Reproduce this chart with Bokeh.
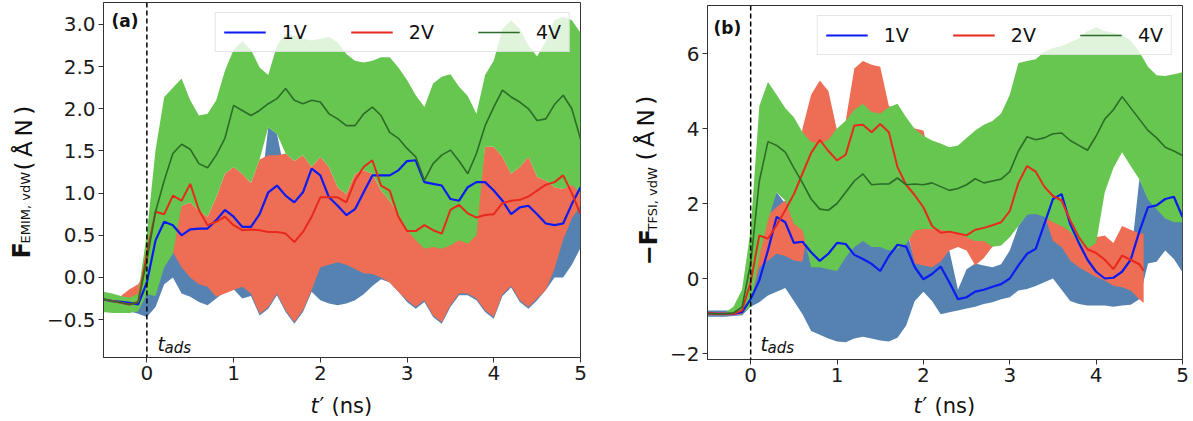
import math
from bokeh.plotting import figure
from bokeh.models import (Range1d, FixedTicker, CustomJSTickFormatter, Span, Label,
                          Legend, LegendItem)
from bokeh.layouts import row, column
from bokeh.embed import file_html
from bokeh.resources import INLINE

# ---------------- data ----------------
T = [-0.5, -0.4, -0.3, -0.2, -0.1, 0.0, 0.1, 0.2, 0.3, 0.4,
     0.5, 0.6, 0.7, 0.8, 0.9, 1.0, 1.1, 1.2, 1.3, 1.4,
     1.5, 1.6, 1.7, 1.8, 1.9, 2.0, 2.1, 2.2, 2.3, 2.4,
     2.5, 2.6, 2.7, 2.8, 2.9, 3.0, 3.1, 3.2, 3.3, 3.4,
     3.5, 3.6, 3.7, 3.8, 3.9, 4.0, 4.1, 4.2, 4.3, 4.4,
     4.5, 4.6, 4.7, 4.8, 4.9, 5.0]
T_RED_B = [-0.5, -0.4, -0.3, -0.2, -0.1, 0.0, 0.1, 0.2, 0.3, 0.4,
           0.5, 0.6, 0.7, 0.8, 0.9, 1.0, 1.1, 1.2, 1.3, 1.4,
           1.5, 1.6, 1.7, 1.8, 1.9, 2.0, 2.1, 2.2, 2.3, 2.4,
           2.5, 2.6, 2.7, 2.8, 2.9, 3.0, 3.1, 3.2, 3.3, 3.4,
           3.5, 3.6, 3.7, 3.8, 3.9, 4.0, 4.1, 4.2, 4.3, 4.4,
           4.5, 4.55]
SERIES = ["1V", "2V", "4V"]
X_TICKS = [0, 1, 2, 3, 4, 5]
A_Y_TICKS = [-0.5, 0.0, 0.5, 1.0, 1.5, 2.0, 2.5, 3.0]
B_Y_TICKS = [-2, 0, 2, 4, 6]

# panel (a): F_EMIM,vdW
a_1V = [-0.26, -0.28, -0.29, -0.30, -0.32, -0.06, 0.44, 0.66, 0.62, 0.50,
        0.57, 0.58, 0.58, 0.68, 0.80, 0.72, 0.60, 0.60, 0.75, 1.01,
        1.09, 0.97, 0.89, 1.01, 1.29, 1.21, 0.95, 0.85, 0.74, 0.81,
        1.01, 1.21, 1.21, 1.21, 1.27, 1.38, 1.39, 1.13, 1.11, 1.09,
        0.93, 0.91, 1.07, 1.13, 1.13, 1.03, 0.91, 0.75, 0.83, 0.85,
        0.75, 0.64, 0.62, 0.64, 0.87, 1.07]
a_1V_lo = [-0.36, -0.37, -0.38, -0.40, -0.43, -0.47, -0.35, -0.08, 0.00, -0.19,
           -0.23, -0.29, -0.33, -0.25, -0.17, -0.14, -0.25, -0.22, -0.45, -0.37,
           -0.21, -0.41, -0.55, -0.41, -0.17, -0.27, -0.31, -0.33, -0.31, -0.27,
           -0.20, -0.10, -0.02, -0.06, -0.17, -0.29, -0.37, -0.29, -0.47, -0.55,
           -0.35, -0.21, -0.21, -0.27, -0.41, -0.49, -0.22, -0.12, -0.29, -0.37,
           -0.27, -0.15, 0.00, 0.00, 0.15, 0.35]
a_1V_hi = [-0.22, -0.22, -0.22, -0.22, -0.20, 0.00, 0.30, 0.30, 0.35, 0.50,
           0.60, 0.60, 0.60, 0.60, 0.60, 0.60, 0.60, 0.60, 0.90, 1.78,
           1.70, 1.20, 1.00, 1.00, 1.00, 1.00, 1.00, 1.00, 0.90, 0.90,
           0.90, 0.90, 0.90, 0.80, 0.60, 0.50, 0.50, 0.50, 0.50, 0.50,
           0.50, 0.50, 0.50, 0.60, 0.90, 1.00, 1.00, 1.00, 1.00, 1.00,
           1.00, 1.00, 1.00, 1.05, 1.10, 1.00]
a_2V = [-0.26, -0.28, -0.30, -0.32, -0.29, 0.28, 0.78, 0.75, 0.97, 0.91,
        1.11, 0.80, 0.62, 0.66, 0.72, 0.62, 0.56, 0.57, 0.56, 0.54,
        0.54, 0.52, 0.42, 0.54, 0.72, 0.95, 0.95, 0.95, 0.89, 1.15,
        1.31, 1.39, 1.09, 1.03, 0.72, 0.55, 0.55, 0.62, 0.56, 0.52,
        0.80, 0.86, 0.76, 0.71, 0.74, 0.75, 0.88, 0.91, 0.92, 0.96,
        1.03, 1.10, 1.13, 1.21, 1.00, 0.75]
a_2V_lo = [-0.38, -0.38, -0.38, -0.38, -0.36, -0.20, -0.10, 0.15, 0.30, 0.12,
           0.00, -0.08, -0.11, -0.23, -0.19, -0.15, -0.11, -0.19, -0.43, -0.35,
           -0.19, -0.39, -0.53, -0.39, -0.15, 0.12, 0.15, 0.18, 0.15, 0.10,
           0.05, 0.04, 0.00, -0.06, -0.17, -0.27, -0.35, -0.27, -0.45, -0.53,
           -0.33, -0.19, -0.19, -0.25, -0.39, -0.47, -0.20, -0.10, -0.27, -0.35,
           -0.25, -0.15, 0.10, 0.45, 0.70, 0.85]
a_2V_hi = [-0.22, -0.22, -0.22, -0.14, -0.08, 0.10, 0.50, 0.60, 0.80, 0.85,
           0.89, 0.79, 0.72, 0.95, 1.23, 1.31, 1.23, 1.12, 1.40, 1.45,
           1.45, 1.47, 1.38, 1.45, 1.31, 1.43, 1.31, 1.07, 0.99, 1.23,
           1.27, 1.23, 1.03, 0.91, 0.75, 0.70, 0.70, 0.70, 0.70, 0.70,
           0.70, 0.70, 0.70, 0.80, 1.55, 1.55, 1.43, 1.23, 1.31, 1.43,
           1.19, 1.15, 1.07, 1.05, 1.10, 1.00]
a_4V = [-0.26, -0.28, -0.30, -0.32, -0.29, 0.20, 0.78, 1.15, 1.47, 1.58,
        1.52, 1.35, 1.30, 1.45, 1.65, 2.04, 1.98, 1.92, 1.98, 2.06,
        2.12, 2.24, 2.10, 2.06, 2.10, 2.08, 1.94, 1.88, 1.80, 1.80,
        1.94, 2.02, 1.92, 1.72, 1.65, 1.53, 1.43, 1.15, 1.35, 1.45,
        1.51, 1.38, 1.23, 1.47, 1.80, 2.02, 2.22, 2.14, 2.08, 2.00,
        1.86, 1.88, 2.05, 2.16, 2.00, 1.64]
a_4V_lo = [-0.41, -0.42, -0.42, -0.42, -0.40, -0.20, -0.22, 0.12, 0.28, 0.85,
           0.89, 0.79, 0.72, 0.95, 1.23, 1.31, 1.23, 1.12, 1.40, 1.78,
           1.70, 1.47, 1.38, 1.45, 1.31, 1.43, 1.31, 1.07, 0.99, 1.23,
           1.27, 1.23, 1.03, 0.91, 0.75, 0.56, 0.44, 0.34, 0.36, 0.34,
           0.38, 0.44, 0.40, 0.50, 1.55, 1.55, 1.43, 1.23, 1.31, 1.43,
           1.19, 1.15, 1.07, 1.05, 1.10, 1.00]
a_4V_hi = [-0.17, -0.19, -0.22, -0.24, -0.19, 0.52, 1.51, 2.14, 2.25, 2.36,
           2.10, 1.92, 1.94, 2.10, 2.45, 2.70, 2.80, 2.70, 2.49, 2.40,
           2.75, 2.89, 2.87, 2.83, 2.81, 2.83, 2.85, 2.79, 2.65, 2.57,
           2.55, 2.57, 2.61, 2.61, 2.49, 2.34, 2.16, 2.02, 2.30, 2.38,
           2.41, 2.26, 2.15, 1.94, 2.40, 2.57, 2.95, 3.05, 2.95, 2.75,
           2.62, 2.80, 3.05, 3.09, 3.05, 2.90]

# panel (b): -F_TFSI,vdW
b_1V = [-0.92, -0.94, -0.94, -0.94, -0.90, -0.55, -0.05, 0.75, 1.64, 1.50,
        0.95, 0.98, 0.70, 0.47, 0.66, 0.95, 0.92, 0.63, 0.52, 0.39,
        0.20, 0.60, 0.90, 0.85, 0.30, -0.02, 0.12, 0.32, -0.10, -0.55,
        -0.50, -0.35, -0.30, -0.22, -0.15, 0.00, 0.35, 0.66, 0.79, 1.45,
        2.12, 2.25, 1.45, 0.95, 0.50, 0.18, 0.00, 0.02, 0.18, 0.50,
        1.25, 1.90, 1.95, 2.12, 2.18, 1.64]
b_1V_lo = [-1.02, -1.02, -1.02, -1.00, -0.98, -0.75, -0.63, -0.45, -0.35, -0.25,
           -0.60, -0.95, -1.40, -1.50, -1.60, -1.68, -1.70, -1.60, -1.55, -1.60,
           -1.65, -1.68, -1.58, -1.25, -0.60, -0.35, -0.60, -0.95, -0.90, -0.85,
           -0.80, -0.75, -0.68, -0.63, -0.55, -0.50, -0.32, -0.28, -0.20, -0.10,
           0.00, -0.30, -0.60, -0.68, -0.72, -0.72, -0.72, -0.75, -0.72, -0.70,
           -0.55, 0.40, 0.45, 0.75, 0.52, 0.17]
b_1V_hi = [-0.85, -0.85, -0.85, -0.85, -0.80, -0.30, 0.50, 1.75, 2.30, 2.00,
           1.20, 1.00, 0.60, 0.60, 0.60, 0.60, 1.00, 1.00, 1.10, 1.10,
           1.20, 1.20, 1.30, 1.30, 0.50, 0.50, 0.50, 0.60, 0.75, -0.30,
           0.25, 0.40, 0.35, 0.30, 0.38, 0.75, 1.40, 1.72, 1.75, 1.70,
           1.30, 1.00, 0.70, 0.50, 0.40, 0.30, 0.30, 0.20, 0.30, 0.50,
           2.65, 2.15, 1.90, 1.65, 1.55, 1.55]
b_2V = [-0.92, -0.94, -0.94, -0.94, -0.85, -0.10, 1.15, 1.06, 1.42, 1.82,
        2.25, 2.80, 3.35, 3.70, 3.40, 3.15, 3.30, 4.08, 4.10, 3.90,
        4.12, 3.90, 2.97, 2.50, 2.22, 1.90, 1.40, 1.22, 1.25, 1.20,
        1.15, 1.30, 1.35, 1.42, 1.50, 1.80, 2.55, 3.00, 2.85, 2.45,
        2.20, 2.08, 1.55, 1.10, 0.78, 0.68, 0.50, 0.25, 0.61, 0.50,
        0.38, 0.21]
b_2V_lo = [-0.98, -0.98, -0.98, -0.98, -0.95, -0.60, 0.30, 0.48, 0.66, 0.60,
           0.48, 0.45, 1.80, 2.10, 1.80, 1.80, 2.30, 2.60, 2.60, 2.40,
           2.40, 2.50, 2.00, 1.40, 0.40, 0.35, 0.30, 0.45, 0.75, 0.84,
           0.75, 0.35, 0.55, 0.85, 1.00, 1.20, 1.50, 1.80, 1.80, 1.70,
           1.00, 0.84, 0.48, 0.30, 0.17, 0.04, -0.05, -0.19, -0.23, -0.32,
           -0.55, -0.65]
b_2V_hi = [-0.90, -0.90, -0.90, -0.90, -0.75, 0.00, 1.40, 1.70, 1.90, 2.08,
           2.00, 4.00, 4.90, 5.28, 5.00, 3.95, 4.20, 5.60, 5.80, 5.70,
           5.65, 4.60, 4.50, 4.10, 4.00, 3.95, 3.00, 2.50, 2.40, 2.30,
           2.30, 2.40, 2.50, 2.60, 2.70, 3.00, 3.50, 3.90, 4.00, 3.50,
           3.00, 2.80, 2.20, 1.50, 1.00, 1.10, 1.15, 0.95, 1.40, 1.30,
           1.20, 1.20]
b_4V = [-0.94, -0.94, -0.94, -0.92, -0.76, 0.40, 2.60, 3.65, 3.55, 3.37,
        2.95, 2.55, 2.12, 1.85, 1.82, 2.00, 2.30, 2.60, 2.79, 2.50,
        2.52, 2.52, 2.68, 2.50, 2.52, 2.50, 2.55, 2.45, 2.35, 2.40,
        2.50, 2.66, 2.55, 2.60, 2.65, 2.85, 3.40, 3.78, 3.70, 3.75,
        3.86, 3.88, 3.68, 3.55, 3.42, 3.80, 4.25, 4.50, 4.85, 4.55,
        4.25, 3.95, 3.75, 3.50, 3.40, 3.28]
b_4V_lo = [-0.94, -0.94, -0.94, -0.95, -0.92, -0.75, 0.60, 1.55, 2.30, 2.08,
           1.46, 1.28, 0.30, 0.30, 0.25, 0.20, 0.57, 0.84, 1.00, 0.84,
           0.84, 0.75, 0.80, 0.92, 1.28, 1.32, 1.32, 1.30, 1.25, 1.20,
           1.10, 1.00, 1.00, 0.85, 0.88, 1.10, 1.40, 1.70, 1.72, 1.65,
           1.50, 1.40, 1.25, 0.95, 0.80, 0.95, 2.30, 2.95, 3.37, 3.00,
           2.65, 2.10, 1.85, 1.60, 1.50, 1.50]
b_4V_hi = [-0.92, -0.92, -0.92, -0.75, -0.30, 1.30, 4.60, 5.24, 4.90, 4.55,
           4.30, 3.90, 3.64, 3.60, 3.70, 4.00, 4.21, 4.50, 4.66, 4.44,
           4.40, 4.57, 4.66, 4.30, 3.99, 3.81, 3.68, 3.60, 3.50, 3.55,
           3.75, 3.95, 4.10, 4.20, 4.40, 4.90, 5.75, 5.80, 5.85, 6.05,
           6.15, 6.20, 6.30, 6.40, 6.60, 6.70, 6.60, 6.55, 6.50, 6.35,
           6.05, 5.65, 5.42, 5.40, 5.45, 5.50]

# ---------------- style ----------------
FONT = "DejaVu Sans"
BAND = {"1V": "#5682b1", "2V": "#ed6e55", "4V": "#66c64f"}
LINE = {"1V": "#0b1bf2", "2V": "#e8291e", "4V": "#2c6b28"}
LW = {"1V": 2.2, "2V": 2.0, "4V": 1.6}
TEXT_COLOR = "#111111"


def lab(p, x, y, text, size, style="normal", angle=0.0, align="left", baseline="middle"):
    p.add_layout(Label(x=x, y=y, x_units="screen", y_units="screen", text=text,
                       text_font=FONT, text_font_size=size, text_font_style=style,
                       text_color=TEXT_COLOR, angle=angle, text_align=align,
                       text_baseline=baseline))


def strip(width, height):
    s = figure(width=width, height=height, x_axis_type=None, y_axis_type=None,
               x_range=Range1d(0, width), y_range=Range1d(0, height),
               min_border=0, output_backend="svg", toolbar_location=None)
    s.outline_line_color = None
    s.xgrid.visible = False
    s.ygrid.visible = False
    s.background_fill_color = "white"
    s.border_fill_color = "white"
    return s


def make_panel(width, height, border_l, border_r, border_t, border_b, yr, yticks, ydec, bands, lines):
    p = figure(width=width, height=height, x_range=Range1d(-0.5, 5.0), y_range=Range1d(*yr),
               output_backend="svg", toolbar_location=None,
               min_border_left=border_l, min_border_right=border_r,
               min_border_top=border_t, min_border_bottom=border_b)
    p.xgrid.visible = False
    p.ygrid.visible = False
    p.outline_line_color = "#333333"
    p.outline_line_width = 1
    p.background_fill_color = "white"
    p.border_fill_color = "white"
    p.xaxis.ticker = FixedTicker(ticks=X_TICKS)
    p.yaxis.ticker = FixedTicker(ticks=yticks)
    p.yaxis.formatter = CustomJSTickFormatter(
        code="return (tick < 0 ? '\u2212' : '') + Math.abs(tick).toFixed(%d);" % ydec)
    for ax in (p.xaxis[0], p.yaxis[0]):
        ax.axis_line_color = "#333333"
        ax.major_tick_line_color = "#333333"
        ax.major_tick_out = 5
        ax.major_tick_in = 0
        ax.minor_tick_out = 0
        ax.minor_tick_in = 0
        ax.major_label_text_font = FONT
        ax.major_label_text_font_size = "20px"
        ax.major_label_text_color = "#1a1a1a"
        ax.major_label_standoff = 3
    for s in SERIES:
        tt, lo, hi = bands[s]
        p.varea(x=tt, y1=lo, y2=hi, fill_color=BAND[s], fill_alpha=1.0)
    rends = []
    for s in SERIES:
        tt, vals = lines[s]
        rends.append(p.line(tt, vals, line_color=LINE[s], line_width=LW[s]))
    p.add_layout(Span(location=0, dimension="height", line_color="black",
                      line_dash="5 3", line_width=1.5))
    leg = Legend(items=[LegendItem(label=s, renderers=[r]) for s, r in zip(SERIES, rends)],
                 orientation="horizontal", location="top_right",
                 label_text_font=FONT, label_text_font_size="19px", label_text_color=TEXT_COLOR,
                 glyph_width=42, glyph_height=20, label_standoff=16, spacing=44,
                 padding=8, margin=10, border_line_color="#cccccc", border_line_width=1,
                 background_fill_color="white", background_fill_alpha=0.8)
    p.add_layout(leg)
    return p


MAIN_H = 392
pa = make_panel(557, MAIN_H, 60, 20, 2, MAIN_H - 357, (-0.949, 3.26), A_Y_TICKS, 1,
                {"1V": (T, a_1V_lo, a_1V_hi), "2V": (T, a_2V_lo, a_2V_hi), "4V": (T, a_4V_lo, a_4V_hi)},
                {"1V": (T, a_1V), "2V": (T, a_2V), "4V": (T, a_4V)})
pb = make_panel(527, MAIN_H, 41, 11, 5, MAIN_H - 359, (-2.16, 7.28), B_Y_TICKS, 0,
                {"1V": (T, b_1V_lo, b_1V_hi), "2V": (T_RED_B, b_2V_lo, b_2V_hi), "4V": (T, b_4V_lo, b_4V_hi)},
                {"1V": (T, b_1V), "2V": (T_RED_B, b_2V), "4V": (T, b_4V)})

# panel tags and t_ads markers (inside the frames)
lab(pa, 8, 337, "(a)", "17px", style="bold")
lab(pb, 6, 332, "(b)", "17px", style="bold")
lab(pa, 54, 13.6, "t", "19px", style="italic")
lab(pa, 61, 9.2, "ads", "15px", style="italic")
lab(pb, 53, 15.6, "t", "19px", style="italic")
lab(pb, 60, 11.2, "ads", "15px", style="italic")

# x-axis titles (strips under the panels; their frames line up with the panel frames)
XS_H = 421 - MAIN_H
XT_Y = 16.0
xa = strip(557, XS_H)
lab(xa, 207, XT_Y, "t", "21px", style="italic")
lab(xa, 216, XT_Y, "\u2032", "21px")
lab(xa, 228, XT_Y, "(ns)", "21px")
xb = strip(527, XS_H)
lab(xb, 206, XT_Y, "t", "21px", style="italic")
lab(xb, 215, XT_Y, "\u2032", "21px")
lab(xb, 227, XT_Y, "(ns)", "21px")

# y-axis titles (strips left of the panels, rotated text)
R = math.pi / 2
SP = "\u2009"
ya = strip(43, 421)
lab(ya, 21.5, 163, "F", "24px", style="bold", angle=R)
lab(ya, 25, 178, "EMIM, vdW", "13px", angle=R)
lab(ya, 23.5, 251, "(" + SP + "\u00c5" + SP + "N" + SP + ")", "23px", angle=R)
yb = strip(66, 421)
lab(yb, 48.5, 156, "\u2212F", "24px", style="bold", angle=R)
lab(yb, 51.5, 190, "TFSI, vdW", "13px", angle=R)
lab(yb, 45, 261, "(" + SP + "\u00c5" + SP + "N" + SP + ")", "23px", angle=R)

layout = row(ya, column(pa, xa), yb, column(pb, xb))
open("out.html", "w").write(file_html(layout, INLINE))
